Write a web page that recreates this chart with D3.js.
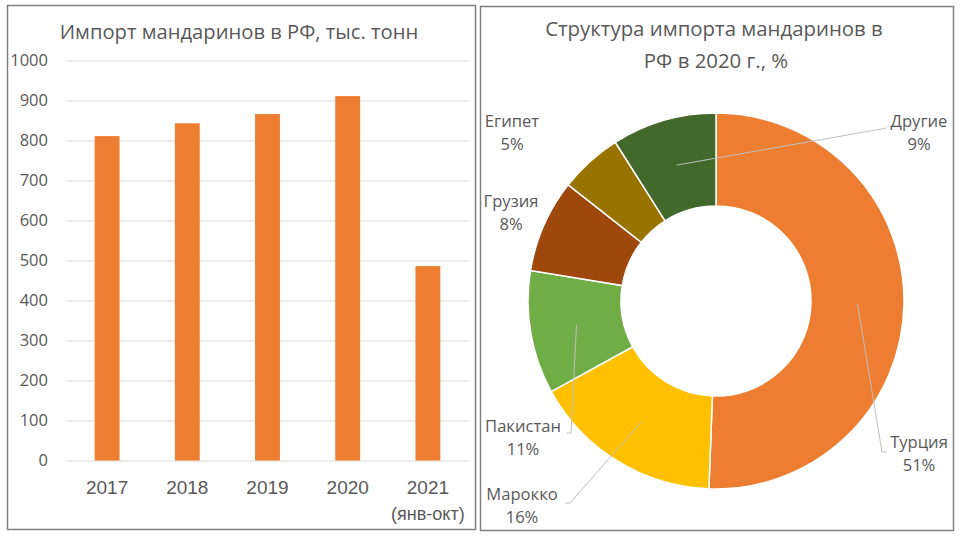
<!DOCTYPE html>
<html><head><meta charset="utf-8">
<script src="https://cdn.jsdelivr.net/npm/d3@7"></script>
<style>
body{margin:0;background:#fff;}
svg{display:block;font-family:"Open Sans",sans-serif;}
</style></head>
<body><svg id="c" width="960" height="537"></svg>
<script>
// ---- data ----
const years = ["2017","2018","2019","2020","2021"];
const yearSub = ["","","","","(янв-окт)"];
const imports = [811, 843, 866, 911, 486];
const yTicks = [0,100,200,300,400,500,600,700,800,900,1000];

const countries = ["Турция","Марокко","Пакистан","Грузия","Египет","Другие"];
const shares = [50.6, 16.4, 10.6, 8.0, 5.4, 9.0];
const sliceColors = ["#ED7D31","#FFC000","#70AD47","#9E480E","#997300","#43682B"];

const svg = d3.select("#c");
const textCol = "#595959";

// panel borders
svg.append("rect").attr("x",7.5).attr("y",5.5).attr("width",468).attr("height",524)
  .attr("fill","none").attr("stroke","#7f7f7f").attr("stroke-width",1.5);
svg.append("rect").attr("x",480.5).attr("y",6.5).attr("width",473).attr("height",524)
  .attr("fill","none").attr("stroke","#7f7f7f").attr("stroke-width",1.5);

// ---- bar chart ----
const x = d3.scaleBand().domain(years).range([67,468]).paddingInner(0.69).paddingOuter(0.345);
const y = d3.scaleLinear().domain([0,1000]).range([460.5,60.5]);

svg.append("text").attr("x",239).attr("y",39).attr("text-anchor","middle")
  .attr("font-size",20.2).attr("fill",textCol).text("Импорт мандаринов в РФ, тыс. тонн");

const yAxis = svg.append("g").attr("transform","translate(67,0)")
  .call(d3.axisLeft(y).tickValues(yTicks).tickSize(-401).tickFormat(d3.format("d")));
yAxis.select(".domain").remove();
yAxis.selectAll(".tick line").attr("stroke","#D9D9D9").attr("stroke-width",1);
yAxis.selectAll(".tick text").attr("x",-19).attr("fill",textCol)
  .attr("font-size",16.5).attr("font-family","Open Sans");

svg.append("g").selectAll("rect").data(imports).join("rect")
  .attr("x",(d,i)=>x(years[i])).attr("width",x.bandwidth())
  .attr("y",d=>y(d)).attr("height",d=>y(0)-y(d)).attr("fill","#ED7D31");

const xAxis = svg.append("g").attr("transform","translate(0,460.5)")
  .call(d3.axisBottom(x).tickSize(0).tickPadding(0));
xAxis.select(".domain").remove();
xAxis.selectAll(".tick text").remove();
xAxis.selectAll(".tick").each(function(d,i){
  const g = d3.select(this);
  g.append("text").attr("y",27).attr("dominant-baseline","central").attr("text-anchor","middle").attr("fill",textCol)
    .attr("font-size",19).text(d);
  if (yearSub[i]) g.append("text").attr("y",53).attr("dominant-baseline","central").attr("text-anchor","middle").attr("fill",textCol)
    .attr("font-size",18).text(yearSub[i]);
});

// ---- donut ----
const cx = 716, cy = 301, R = 188, r0 = 95;
svg.append("text").attr("x",714).attr("y",28).attr("dominant-baseline","central").attr("text-anchor","middle")
  .attr("font-size",20.4).attr("fill",textCol).text("Структура импорта мандаринов в");
svg.append("text").attr("x",716).attr("y",60).attr("dominant-baseline","central").attr("text-anchor","middle")
  .attr("font-size",20.4).attr("fill",textCol).text("РФ в 2020 г., %");

const pie = d3.pie().sort(null).startAngle(0).endAngle(2*Math.PI)(shares);
const arc = d3.arc().innerRadius(r0).outerRadius(R);
const g = svg.append("g").attr("transform",`translate(${cx},${cy})`);
g.selectAll("path").data(pie).join("path").attr("d",arc)
  .attr("fill",(d,i)=>sliceColors[i]).attr("stroke","#fff").attr("stroke-width",1.5);

// label layout (positions of text, and leader end points)
const labelLayout = [
  {tx:919, ty:441, lead:[[882,452],[887,452]]},
  {tx:522, ty:493, lead:[[570,503],[565,503]]},
  {tx:523, ty:425, lead:[[571,433],[567,433]]},
  {tx:511, ty:200, lead:null},
  {tx:512, ty:120, lead:null},
  {tx:919, ty:120, lead:[[887,128]]}
];
pie.forEach((p,i)=>{
  const L = labelLayout[i];
  if (L.lead){
    const c = arc.centroid(p);
    const pts = [[cx+c[0],cy+c[1]]].concat(L.lead);
    svg.append("path").attr("d",d3.line()(pts)).attr("fill","none")
      .attr("stroke","#BFBFBF").attr("stroke-width",1);
  }
  svg.append("text").attr("x",L.tx).attr("y",L.ty).attr("text-anchor","middle")
    .attr("dominant-baseline","central").attr("font-size",16.6).attr("fill",textCol).text(countries[i]);
  svg.append("text").attr("x",L.tx).attr("y",L.ty+23.5).attr("text-anchor","middle")
    .attr("dominant-baseline","central").attr("font-size",16.6).attr("fill",textCol)
    .text(Math.round(shares[i])+"%");
});
</script></body></html>
